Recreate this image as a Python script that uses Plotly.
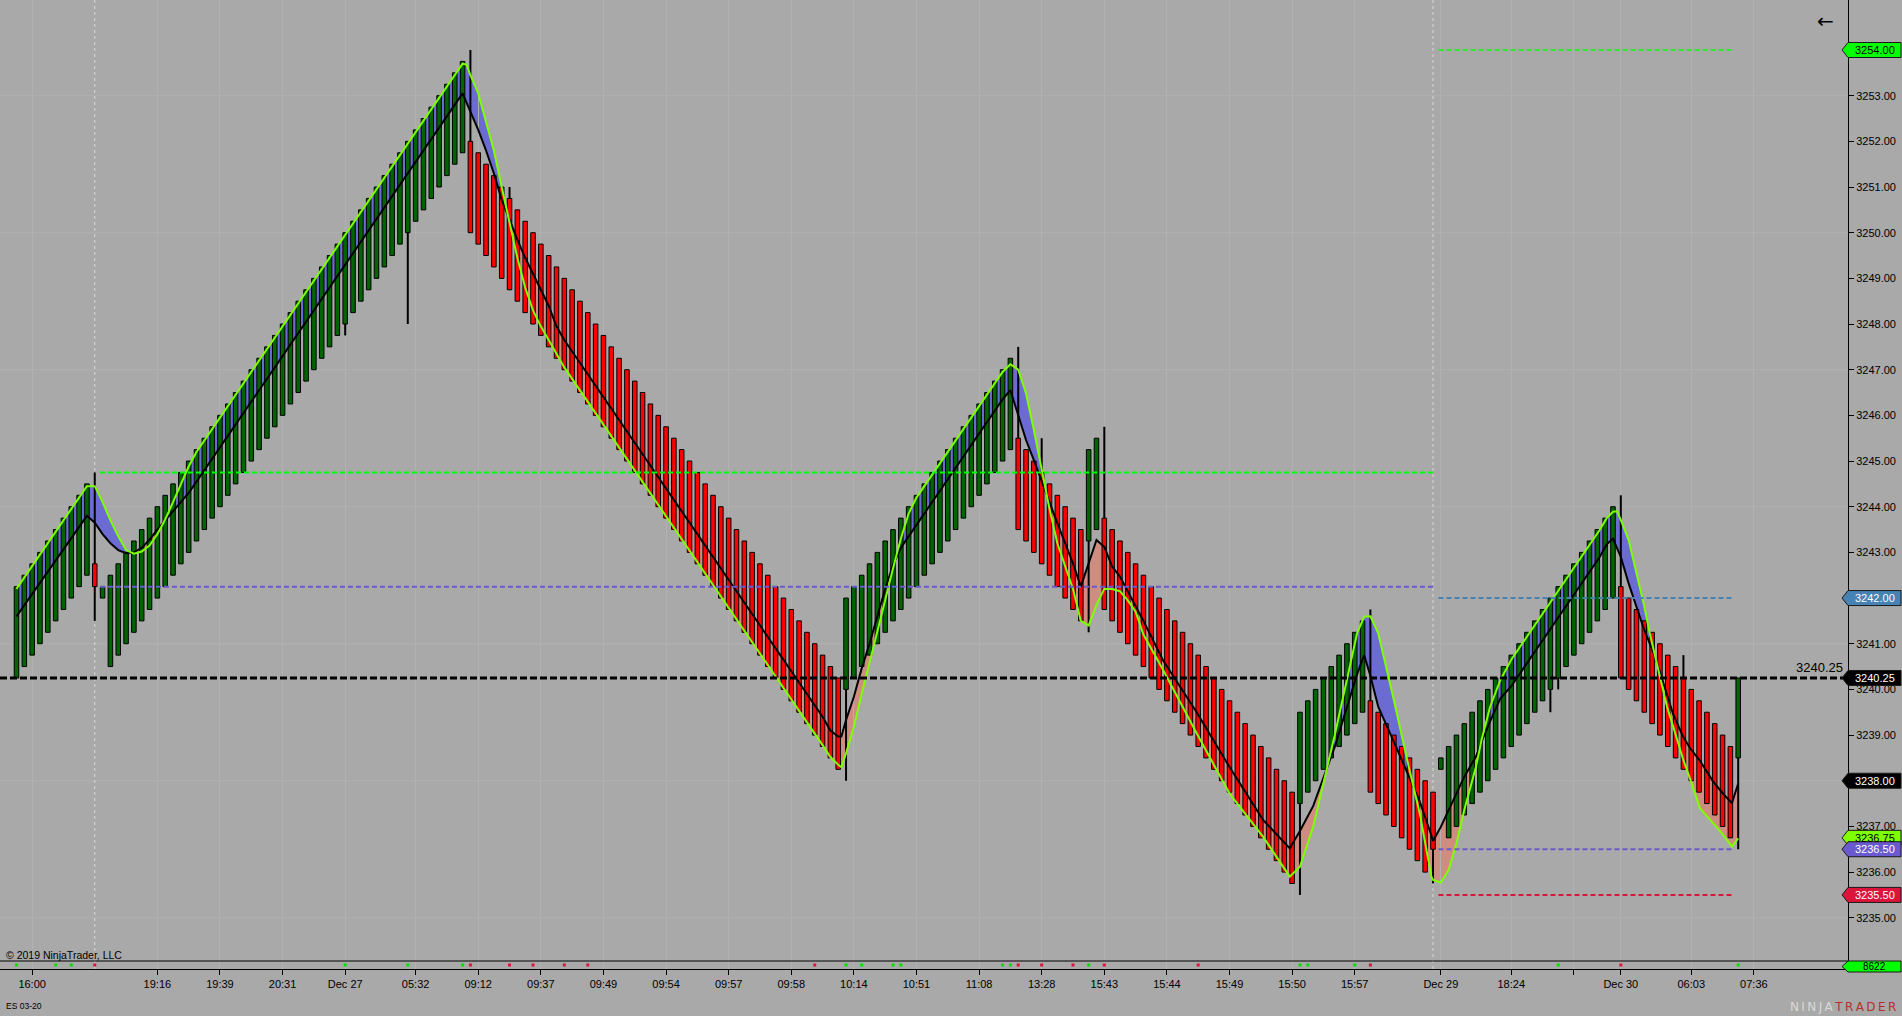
import plotly.graph_objects as go

# ---------------- data ----------------
bar_open = [
    # session 1 green
    3240.25, 3240.5, 3240.75, 3241.0, 3241.25, 3241.5, 3241.75, 3242.0, 3242.25, 3242.5,
    3242.75,  # partial red (session break)
    3242.0,   # small green
    # green run up to Dec 27 high
    3240.5, 3240.75, 3241.0, 3241.25, 3241.5, 3241.75, 3242.0, 3242.25, 3242.5, 3242.75,
    3243.0, 3243.25, 3243.5, 3243.75, 3244.0, 3244.25, 3244.5, 3244.75, 3245.0, 3245.25,
    3245.5, 3245.75, 3246.0, 3246.25, 3246.5, 3246.75, 3247.0, 3247.25, 3247.5, 3247.75,
    3248.0, 3248.25, 3248.5, 3248.75, 3249.0, 3249.25, 3249.5, 3249.75, 3250.0, 3250.25,
    3250.5, 3250.75, 3251.0, 3251.25, 3251.5, 3251.75,
    # red run down
    3252.0, 3251.75, 3251.5, 3251.25, 3251.0, 3250.75, 3250.5, 3250.25, 3250.0, 3249.75,
    3249.5, 3249.25, 3249.0, 3248.75, 3248.5, 3248.25, 3248.0, 3247.75, 3247.5, 3247.25,
    3247.0, 3246.75, 3246.5, 3246.25, 3246.0, 3245.75, 3245.5, 3245.25, 3245.0, 3244.75,
    3244.5, 3244.25, 3244.0, 3243.75, 3243.5, 3243.25, 3243.0, 3242.75, 3242.5, 3242.25,
    3242.0, 3241.75, 3241.5, 3241.25, 3241.0, 3240.75, 3240.5, 3240.25,
    # green run
    3240.0, 3240.25, 3240.5, 3240.75, 3241.0, 3241.25, 3241.5, 3241.75, 3242.0, 3242.25,
    3242.5, 3242.75, 3243.0, 3243.25, 3243.5, 3243.75, 3244.0, 3244.25, 3244.5, 3244.75,
    3245.0, 3245.25,
    # red run
    3245.5, 3245.25, 3245.0, 3244.75, 3244.5, 3244.25, 3244.0, 3243.75, 3243.5,
    # two green
    3243.25, 3243.5,
    # red run
    3243.75, 3243.5, 3243.25, 3243.0, 3242.75, 3242.5, 3242.25, 3242.0, 3241.75, 3241.5,
    3241.25, 3241.0, 3240.75, 3240.5, 3240.25, 3240.0, 3239.75, 3239.5, 3239.25, 3239.0,
    3238.75, 3238.5, 3238.25, 3238.0, 3237.75,
    # green run
    3237.5, 3237.75, 3238.0, 3238.25, 3238.5, 3238.75, 3239.0, 3239.25, 3239.5,
    # red run
    3239.75, 3239.5, 3239.25, 3239.0, 3238.75, 3238.5, 3238.25, 3238.0,
    3237.75,  # partial red (session break)
    3238.25,  # small green
    # green run
    3236.75, 3237.0, 3237.25, 3237.5, 3237.75, 3238.0, 3238.25, 3238.5, 3238.75, 3239.0,
    3239.25, 3239.5, 3239.75, 3240.0, 3240.25, 3240.5, 3240.75, 3241.0, 3241.25, 3241.5,
    3241.75, 3242.0,
    # red run
    3242.25, 3242.0, 3241.75, 3241.5, 3241.25, 3241.0, 3240.75, 3240.5, 3240.25, 3240.0,
    3239.75, 3239.5, 3239.25, 3239.0, 3238.75,
    # last (current) green
    3238.5,
]

bar_close = [
    3242.25, 3242.5, 3242.75, 3243.0, 3243.25, 3243.5, 3243.75, 3244.0, 3244.25, 3244.5,
    3242.25,
    3242.25,
    3242.5, 3242.75, 3243.0, 3243.25, 3243.5, 3243.75, 3244.0, 3244.25, 3244.5, 3244.75,
    3245.0, 3245.25, 3245.5, 3245.75, 3246.0, 3246.25, 3246.5, 3246.75, 3247.0, 3247.25,
    3247.5, 3247.75, 3248.0, 3248.25, 3248.5, 3248.75, 3249.0, 3249.25, 3249.5, 3249.75,
    3250.0, 3250.25, 3250.5, 3250.75, 3251.0, 3251.25, 3251.5, 3251.75, 3252.0, 3252.25,
    3252.5, 3252.75, 3253.0, 3253.25, 3253.5, 3253.75,
    3250.0, 3249.75, 3249.5, 3249.25, 3249.0, 3248.75, 3248.5, 3248.25, 3248.0, 3247.75,
    3247.5, 3247.25, 3247.0, 3246.75, 3246.5, 3246.25, 3246.0, 3245.75, 3245.5, 3245.25,
    3245.0, 3244.75, 3244.5, 3244.25, 3244.0, 3243.75, 3243.5, 3243.25, 3243.0, 3242.75,
    3242.5, 3242.25, 3242.0, 3241.75, 3241.5, 3241.25, 3241.0, 3240.75, 3240.5, 3240.25,
    3240.0, 3239.75, 3239.5, 3239.25, 3239.0, 3238.75, 3238.5, 3238.25,
    3242.0, 3242.25, 3242.5, 3242.75, 3243.0, 3243.25, 3243.5, 3243.75, 3244.0, 3244.25,
    3244.5, 3244.75, 3245.0, 3245.25, 3245.5, 3245.75, 3246.0, 3246.25, 3246.5, 3246.75,
    3247.0, 3247.25,
    3243.5, 3243.25, 3243.0, 3242.75, 3242.5, 3242.25, 3242.0, 3241.75, 3241.5,
    3245.25, 3245.5,
    3241.75, 3241.5, 3241.25, 3241.0, 3240.75, 3240.5, 3240.25, 3240.0, 3239.75, 3239.5,
    3239.25, 3239.0, 3238.75, 3238.5, 3238.25, 3238.0, 3237.75, 3237.5, 3237.25, 3237.0,
    3236.75, 3236.5, 3236.25, 3236.0, 3235.75,
    3239.5, 3239.75, 3240.0, 3240.25, 3240.5, 3240.75, 3241.0, 3241.25, 3241.5,
    3237.75, 3237.5, 3237.25, 3237.0, 3236.75, 3236.5, 3236.25, 3236.0,
    3236.5,
    3238.5,
    3238.75, 3239.0, 3239.25, 3239.5, 3239.75, 3240.0, 3240.25, 3240.5, 3240.75, 3241.0,
    3241.25, 3241.5, 3241.75, 3242.0, 3242.25, 3242.5, 3242.75, 3243.0, 3243.25, 3243.5,
    3243.75, 3244.0,
    3240.25, 3240.0, 3239.75, 3239.5, 3239.25, 3239.0, 3238.75, 3238.5, 3238.25, 3238.0,
    3237.75, 3237.5, 3237.25, 3237.0, 3236.75,
    3240.25,
]

# bars whose high / low reach beyond the body
wick_index = [10, 42, 50, 58, 63, 106, 128, 131, 137, 139, 164, 173, 181, 196, 197, 205, 213, 220]
wick_high = [3244.75, None, None, 3254.0, 3251.0, None, 3247.5, 3245.5, None, 3245.75,
             None, 3241.75, None, None, None, 3244.25, 3240.75, None]
wick_low = [3241.5, 3247.75, 3248.0, None, None, 3238.0, None, None, 3241.25, None,
            3235.5, None, 3235.75, 3239.5, 3240.0, None, None, 3236.5]

# indicator lines (bar index, price) read at their vertices
line_x = [0, 9, 10, 11, 12, 13, 14, 15, 16, 17, 18, 19, 20, 21, 22, 23, 57, 57.5, 58, 59,
          60, 61, 62, 63, 64, 65, 66, 67, 68, 69, 70, 103, 104, 105, 105.4, 106, 107, 108, 109, 110,
          111, 112, 113, 114, 115, 126, 127, 128, 129, 130, 131, 132, 133, 134, 135, 136, 137, 138,
          139, 140, 141, 142, 143, 144, 146.5, 150.8, 155, 159.3, 162.7, 164, 165.7, 168.5, 171.3,
          172.2, 173, 174, 176, 177.6, 179.3, 180.8, 181, 182, 183, 184, 185, 186.5, 187.2, 188.3,
          189.6, 191, 202.3, 203.2, 204, 204.5, 205, 206, 207, 207.9, 208.7, 209.2, 210, 210.9,
          211.7, 213, 213.9, 215.1, 216.8, 218.1, 219.2, 220]
green_line = [3242.2, 3244.45, 3244.45, 3244.1, 3243.7, 3243.35, 3243.05, 3242.97, 3243.02, 3243.15,
              3243.4, 3243.72, 3244.1, 3244.5, 3244.88, 3245.2, 3253.7, 3253.68, 3253.45, 3253.05,
              3252.45, 3251.8, 3251.0, 3250.2, 3249.45, 3248.8, 3248.3, 3247.95, 3247.65, 3247.33,
              3247.05, 3238.78, 3238.52, 3238.35, 3238.3, 3238.6, 3239.18, 3239.9, 3240.57, 3241.23,
              3241.95, 3242.65, 3243.3, 3243.85, 3244.2, 3246.95, 3247.12, 3247.0, 3246.48, 3245.68,
              3244.8, 3243.95, 3243.2, 3242.7, 3242.2, 3241.5, 3241.4, 3241.85,
              3242.2, 3242.2, 3242.15, 3241.95, 3241.7, 3241.2, 3240.43, 3239.04, 3237.72, 3236.77,
              3235.9, 3236.12, 3237.0, 3239.04, 3241.23,
              3241.59, 3241.6, 3241.23, 3239.77, 3238.53, 3237.29, 3235.9, 3235.83, 3235.77, 3236.05,
              3236.63, 3237.36, 3238.31, 3238.89, 3239.62,
              3240.2, 3240.65, 3243.49, 3243.75, 3243.89, 3243.9, 3243.71, 3243.27, 3242.54, 3241.89,
              3241.23, 3240.86, 3240.28, 3239.62,
              3239.18, 3238.45, 3238.02, 3237.4, 3237.07, 3236.81, 3236.56, 3236.74]
black_line = [3241.6, 3243.8, 3243.65, 3243.4, 3243.2, 3243.05, 3242.98, 3243.0, 3243.1, 3243.28,
              3243.5, 3243.7, 3243.9, 3244.1, 3244.3, 3244.55, 3253.05, 3252.85, 3252.65, 3252.25,
              3251.8, 3251.3, 3250.72, 3250.28, 3249.85, 3249.45, 3249.1, 3248.75, 3248.4, 3247.95,
              3247.65, 3239.4, 3239.1, 3238.97, 3238.97, 3239.33, 3239.84, 3240.46, 3241.0, 3241.6,
              3242.2, 3242.72, 3243.1, 3243.35, 3243.6, 3246.35, 3246.55, 3246.0, 3245.46, 3245.02,
              3244.58, 3244.1, 3243.64, 3243.2, 3242.76, 3242.25, 3242.76, 3243.27,
              3243.12, 3242.69, 3242.47, 3242.15, 3241.81, 3241.5, 3240.64, 3239.5, 3238.3, 3237.14,
              3236.52, 3236.9, 3237.45, 3238.77, 3240.33,
              3240.75, 3240.3, 3239.62, 3238.85, 3238.22, 3237.55, 3236.8, 3236.68, 3236.99, 3237.36,
              3237.72, 3238.09, 3238.53, 3238.85, 3239.3,
              3239.8, 3240.07, 3242.9, 3243.18, 3243.3, 3243.1, 3242.9, 3242.32, 3241.81, 3241.35,
              3241.0, 3240.79, 3240.38, 3239.88,
              3239.45, 3238.95, 3238.7, 3238.44, 3237.98, 3237.71, 3237.51, 3237.94]

# time axis
tick_pos = [2, 18, 26, 34, 42, 51, 59, 67, 75, 83, 91, 99, 107, 115, 123, 131, 139, 147, 155,
            163, 171, 182, 191, 199, 205, 214, 222]
tick_text = ['16:00', '19:16', '19:39', '20:31', 'Dec 27', '05:32', '09:12', '09:37', '09:49',
             '09:54', '09:57', '09:58', '10:14', '10:51', '11:08', '13:28', '15:43', '15:44',
             '15:49', '15:50', '15:57', 'Dec 29', '18:24', '', 'Dec 30', '06:03', '07:36']
session_breaks = [10, 181]

# price axis
price_ticks = [3235, 3236, 3237, 3238, 3239, 3240, 3241, 3242, 3243, 3244, 3245, 3246, 3247,
               3248, 3249, 3250, 3251, 3252, 3253, 3254]
price_grid = [3235, 3238, 3241, 3244, 3247, 3250, 3253]

# horizontal level lines
level_price = [3244.75, 3242.25, 3254.0, 3242.0, 3236.5, 3235.5]
level_start = [10.67, 10.67, 181.7, 181.7, 181.7, 181.7]
level_end = [181.3, 181.3, 219.4, 219.4, 219.4, 219.4]
level_color = ['#00FF00', '#6A5ACD', '#00FF00', '#4682B4', '#6A5ACD', '#DC143C']
level_width = [2, 2, 1.5, 2, 2, 2]
last_price = 3240.25

# price markers on the axis
flag_price = [3254.0, 3242.0, 3240.25, 3238.0, 3236.75, 3236.5, 3235.5]
flag_fill = ['#00FF00', '#4682B4', '#000000', '#000000', '#7FFF00', '#6A5ACD', '#DC143C']
flag_font = ['black', 'white', 'white', 'white', 'black', 'white', 'white']
volume_value = 8622

# signal marks in the lower strip
green_marks = [0, 5, 7, 42, 50, 57, 106, 108, 112, 113, 126, 127, 137, 164, 165, 171, 197, 220]
red_marks = [10, 58, 63, 66, 70, 73, 102, 128, 131, 135, 139, 151, 173, 205]

# ---------------- layout constants ----------------
W, H = 1902, 1016
MR, MB = 54, 47
PLOT_W = W - MR
PLOT_H = H - MB
STRIP_PX = 8
Y_MIN, Y_MAX = 3234.053, 3255.095
X_MIN, X_MAX = -2.108, 234.03
FONT = 'Liberation Sans, Arial, sans-serif'
BG = '#A9A9A9'
GRID = '#B1B1B1'

main_bottom = STRIP_PX / PLOT_H
main_h_px = PLOT_H - STRIP_PX
price_per_px = (Y_MAX - Y_MIN) / main_h_px

fig = go.Figure()

n = len(bar_close)
assert len(bar_open) == n
assert len(line_x) == len(green_line) == len(black_line)
xs = list(range(n))
base = [min(o, c) for o, c in zip(bar_open, bar_close)]
hgt = [abs(c - o) for o, c in zip(bar_open, bar_close)]
cols = ['#006400' if c > o else '#FF0000' for o, c in zip(bar_open, bar_close)]

fig.add_trace(go.Bar(x=xs, y=hgt, base=base, width=0.58,
                     marker=dict(color=cols, line=dict(color='black', width=1)),
                     hoverinfo='skip', xaxis='x', yaxis='y'))

wx, wy = [], []
for i, hi, lo in zip(wick_index, wick_high, wick_low):
    top = max(bar_open[i], bar_close[i])
    bot = min(bar_open[i], bar_close[i])
    if hi is not None:
        wx += [i, i, None]
        wy += [top, hi, None]
    if lo is not None:
        wx += [i, i, None]
        wy += [bot, lo, None]
fig.add_trace(go.Scatter(x=wx, y=wy, mode='lines', line=dict(color='black', width=2),
                         hoverinfo='skip', xaxis='x', yaxis='y'))

fig.add_trace(go.Scatter(x=line_x, y=black_line, mode='lines',
                         line=dict(color='black', width=2), hoverinfo='skip'))
fig.add_trace(go.Scatter(x=line_x, y=green_line, mode='lines',
                         line=dict(color='#7FFF00', width=2), hoverinfo='skip'))

# lower strip marks
fig.add_trace(go.Scatter(x=green_marks, y=[0.5] * len(green_marks), mode='markers',
                         marker=dict(symbol='square', size=3, color='#00E000'),
                         hoverinfo='skip', xaxis='x', yaxis='y2'))
fig.add_trace(go.Scatter(x=red_marks, y=[0.5] * len(red_marks), mode='markers',
                         marker=dict(symbol='square', size=3, color='#DC143C'),
                         hoverinfo='skip', xaxis='x', yaxis='y2'))

shapes = []
# price grid
for p in price_grid:
    shapes.append(dict(type='line', xref='paper', x0=0, x1=1, yref='y', y0=p, y1=p,
                       line=dict(color=GRID, width=1), layer='below'))
# session breaks
for s in session_breaks:
    shapes.append(dict(type='line', xref='x', x0=s, x1=s, yref='paper', y0=0, y1=1,
                       line=dict(color='#D8D8D8', width=1, dash='3px,3px'), layer='below'))


# fill between the two indicator lines
def regions(xv, g, b):
    out = []
    sign = 1 if g[0] - b[0] >= 0 else -1
    top = [(xv[0], g[0])]
    bot = [(xv[0], b[0])]
    for k in range(1, len(xv)):
        d0 = g[k - 1] - b[k - 1]
        d1 = g[k] - b[k]
        s1 = 1 if d1 >= 0 else -1
        if s1 != sign and d1 != 0:
            t = d0 / (d0 - d1)
            xc = xv[k - 1] + t * (xv[k] - xv[k - 1])
            yc = g[k - 1] + t * (g[k] - g[k - 1])
            top.append((xc, yc))
            bot.append((xc, yc))
            out.append((sign, top + bot[::-1]))
            sign = s1
            top = [(xc, yc), (xv[k], g[k])]
            bot = [(xc, yc), (xv[k], b[k])]
        else:
            top.append((xv[k], g[k]))
            bot.append((xv[k], b[k]))
    out.append((sign, top + bot[::-1]))
    return out


for sgn, pts in regions(line_x, green_line, black_line):
    path = 'M ' + ' L '.join(f'{px:.4f},{py:.4f}' for px, py in pts) + ' Z'
    shapes.append(dict(type='path', xref='x', yref='y', path=path,
                       fillcolor='#6B6BD2' if sgn > 0 else '#CF8D82',
                       line=dict(width=0), layer='below'))

# level lines
for p, x0, x1, c, w in zip(level_price, level_start, level_end, level_color, level_width):
    shapes.append(dict(type='line', xref='x', x0=x0, x1=x1, yref='y', y0=p, y1=p,
                       line=dict(color=c, width=w, dash='5px,3px'), layer='above'))
# last price line
shapes.append(dict(type='line', xref='paper', x0=0, x1=1, yref='y', y0=last_price, y1=last_price,
                   line=dict(color='black', width=3, dash='7px,3px'), layer='above'))
# strip top line
shapes.append(dict(type='line', xref='paper', x0=0, x1=1, yref='paper', y0=main_bottom, y1=main_bottom,
                   line=dict(color='black', width=1), layer='above'))

# axis flags
x_tip = (PLOT_W - 6) / PLOT_W
x_body = 1.0
x_right = (W - 1) / PLOT_W
x_text = (PLOT_W + (W - 1 - PLOT_W) / 2) / PLOT_W
hh = 7.5 * price_per_px
annotations = []
for p, fc, tc in zip(flag_price, flag_fill, flag_font):
    path = (f'M {x_tip},{p} L {x_body},{p + hh} L {x_right},{p + hh} '
            f'L {x_right},{p - hh} L {x_body},{p - hh} Z')
    shapes.append(dict(type='path', xref='paper', yref='y', path=path, fillcolor=fc,
                       line=dict(color='#1A1A1A', width=1), layer='above'))
    annotations.append(dict(xref='paper', yref='y', x=x_text, y=p, text=f'{p:.2f}',
                            showarrow=False, xanchor='center', yanchor='middle',
                            font=dict(family=FONT, size=11, color=tc)))

# volume flag in the strip
vy = (PLOT_H - 966.5) / PLOT_H
vh = 5.5 / PLOT_H
shapes.append(dict(type='path', xref='paper', yref='paper',
                   path=(f'M {x_tip},{vy} L {x_body},{vy + vh} L {x_right},{vy + vh} '
                         f'L {x_right},{vy - vh} L {x_body},{vy - vh} Z'),
                   fillcolor='#00FF00', line=dict(color='#1A1A1A', width=1), layer='above'))
annotations.append(dict(xref='paper', yref='paper', x=x_text, y=vy, text=str(volume_value),
                        showarrow=False, xanchor='center', yanchor='middle',
                        font=dict(family=FONT, size=10, color='black')))

annotations.append(dict(xref='paper', yref='y', x=(PLOT_W - 3) / PLOT_W, y=last_price,
                        text=f'{last_price:.2f}', showarrow=False, xanchor='right',
                        yanchor='bottom', yshift=1, font=dict(family=FONT, size=13, color='black')))
annotations.append(dict(xref='paper', yref='paper', x=(PLOT_W - 23) / PLOT_W, y=(PLOT_H - 21) / PLOT_H,
                        text='←', showarrow=False, xanchor='center', yanchor='middle',
                        font=dict(family='DejaVu Sans', size=20, color='black')))
annotations.append(dict(xref='paper', yref='paper', x=4 / PLOT_W, y=(PLOT_H - 955) / PLOT_H,
                        text='© 2019 NinjaTrader, LLC', showarrow=False, xanchor='left',
                        yanchor='middle', font=dict(family=FONT, size=10.5, color='black')))
annotations.append(dict(xref='paper', yref='paper', x=4 / PLOT_W, y=(PLOT_H - 1006) / PLOT_H,
                        text='ES 03-20', showarrow=False, xanchor='left',
                        yanchor='middle', font=dict(family=FONT, size=8.5, color='black')))
sp = '\u2009'
logo = ("<span style='color:#D9D9D9'>" + sp.join('NINJA') + "</span>" + sp +
        "<span style='color:#B5312B'>" + sp.join('TRADER') + "</span>")
annotations.append(dict(xref='paper', yref='paper', x=(W - 4) / PLOT_W, y=(PLOT_H - 1007) / PLOT_H,
                        text=logo, showarrow=False, xanchor='right', yanchor='middle',
                        font=dict(family='DejaVu Sans', size=12)))

fig.update_layout(
    width=W, height=H,
    margin=dict(l=0, r=MR, t=0, b=MB, pad=0),
    paper_bgcolor=BG, plot_bgcolor=BG,
    showlegend=False,
    barmode='overlay',
    shapes=shapes,
    annotations=annotations,
    xaxis=dict(range=[X_MIN, X_MAX], anchor='y2', tickmode='array', tickvals=tick_pos,
               ticktext=tick_text, ticks='outside', ticklen=5, tickcolor='black', tickwidth=1,
               showgrid=True, gridcolor=GRID, gridwidth=1, zeroline=False,
               showline=True, linecolor='black', linewidth=1,
               tickfont=dict(family=FONT, size=11, color='black')),
    yaxis=dict(domain=[main_bottom, 1], range=[Y_MIN, Y_MAX], side='right', anchor='x',
               tickmode='array', tickvals=price_ticks, ticktext=[f'{v:.2f}' for v in price_ticks],
               ticks='outside', ticklen=5, tickcolor='black', showgrid=False, zeroline=False,
               showline=True, linecolor='black', linewidth=1,
               tickfont=dict(family=FONT, size=11, color='black')),
    yaxis2=dict(domain=[0, main_bottom], range=[0, 1], side='right', anchor='x',
                showticklabels=False, ticks='', showgrid=False, zeroline=False,
                showline=True, linecolor='black', linewidth=1),
)

fig.write_html('out.html',
               config={'displayModeBar': False},
               post_script="document.body.style.margin='0';document.body.style.overflow='hidden';")
